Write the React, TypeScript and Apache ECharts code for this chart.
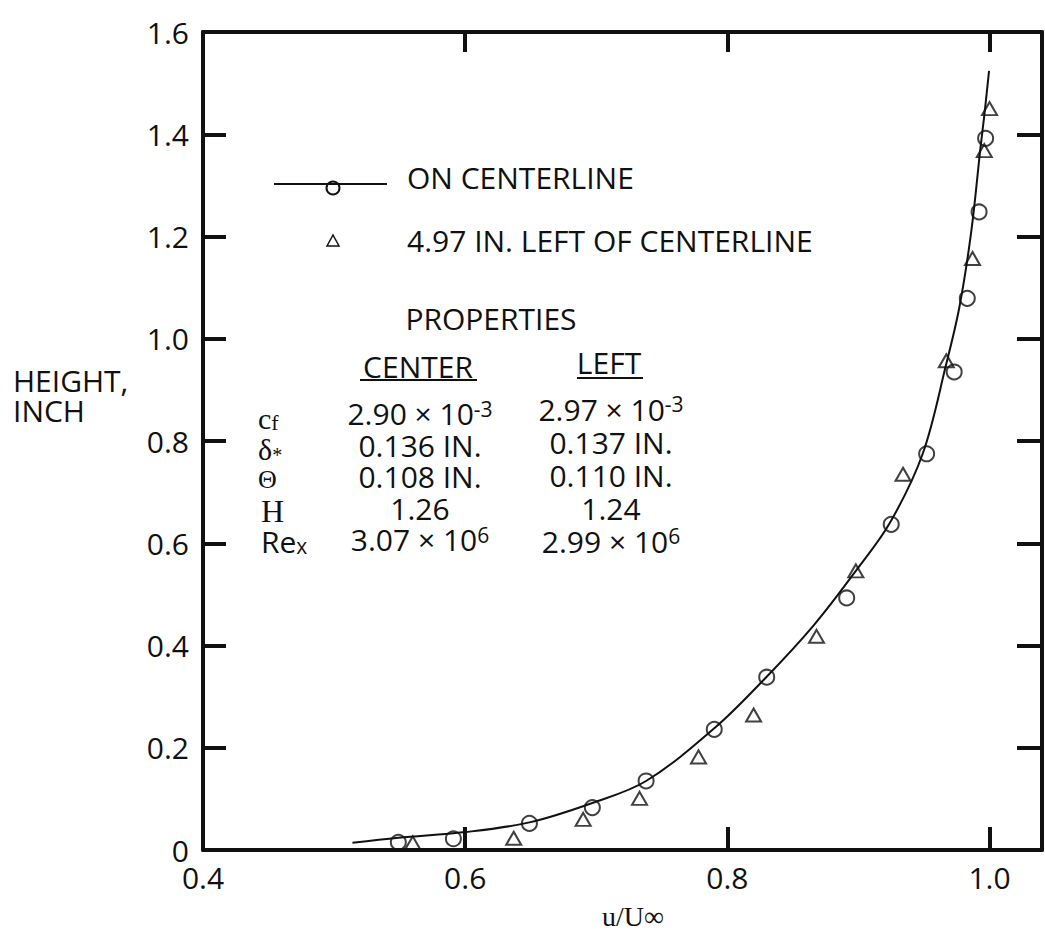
import React, { useEffect, useRef } from "react";
import * as echarts from "echarts";

// ON CENTERLINE (circles)
const centerX = [0.549, 0.591, 0.649, 0.697, 0.738, 0.79, 0.83, 0.891, 0.925, 0.952, 0.973, 0.983, 0.992, 0.997];
const centerY = [0.015, 0.022, 0.052, 0.083, 0.135, 0.236, 0.338, 0.493, 0.637, 0.775, 0.935, 1.079, 1.248, 1.392];
// 4.97 IN. LEFT OF CENTERLINE (triangles)
const leftX = [0.56, 0.637, 0.69, 0.733, 0.778, 0.82, 0.868, 0.898, 0.934, 0.967, 0.987, 0.996, 1.0];
const leftY = [0.014, 0.023, 0.06, 0.101, 0.182, 0.264, 0.418, 0.546, 0.735, 0.957, 1.157, 1.368, 1.45];
// faired curve through the centerline data
const fitX = [0.514, 0.549, 0.6, 0.649, 0.697, 0.738, 0.79, 0.83, 0.866, 0.898, 0.924, 0.949, 0.967, 0.977, 0.986, 0.993, 0.996, 0.9996];
const fitY = [0.014, 0.024, 0.035, 0.054, 0.092, 0.135, 0.238, 0.339, 0.44, 0.546, 0.64, 0.775, 0.951, 1.062, 1.209, 1.372, 1.437, 1.524];

const xLabels = ["0.4", "0.6", "0.8", "1.0"];
const yLabels = ["0", "0.2", "0.4", "0.6", "0.8", "1.0", "1.2", "1.4", "1.6"];

// properties table
const centerProps = ["2.90 × 10|-3", "0.136 IN.", "0.108 IN.", "1.26", "3.07 × 10|6"];
const leftProps = ["2.97 × 10|-3", "0.137 IN.", "0.110 IN.", "1.24", "2.99 × 10|6"];

const SANS = "'Open Sans', 'Noto Sans', sans-serif";
const SERIF = "'Liberation Serif', 'DejaVu Serif', serif";
const INK = "#111";

function txt(text: string, x: number, y: number, size: number, align: string = "left", family: string = SANS) {
  return {
    type: "text",
    x,
    y,
    style: {
      text,
      fill: INK,
      font: `${size}px ${family}`,
      textAlign: align,
      textVerticalAlign: "middle",
      verticalAlign: "middle",
    },
  };
}

function propColumn(rows: string[], x: number, top: number, lh: number) {
  const text = rows
    .map((r) => {
      const [m, s] = r.split("|");
      return s ? `{m|${m}}{s|${s}}` : `{m|${m}}`;
    })
    .join("\n");
  return {
    type: "text",
    x,
    y: top,
    style: {
      text,
      fill: INK,
      font: `30px ${SANS}`,
      align: "center",
      textAlign: "center",
      verticalAlign: "top",
      textVerticalAlign: "top",
      rich: {
        m: { fontSize: 30, fontFamily: SANS, color: INK, fill: INK, lineHeight: lh },
        s: { fontSize: 21, fontFamily: SANS, color: INK, fill: INK, lineHeight: 13, verticalAlign: "top" },
      },
    },
  };
}

export default function App() {
  const ref = useRef<HTMLDivElement>(null);

  useEffect(() => {
    if (!ref.current) return;
    const chart = echarts.init(ref.current, undefined, { renderer: "svg" });

    const fmtX = (v: number) => {
      const idx = xLabels.indexOf(v.toFixed(1));
      return Math.abs(v * 5 - Math.round(v * 5)) < 1e-6 && idx >= 0 ? xLabels[idx] : "";
    };
    const fmtY = (v: number) => {
      const s = v === 0 ? "0" : v.toFixed(1);
      return yLabels.indexOf(s) >= 0 ? s : "";
    };

    const axisLine = { show: true, onZero: false, lineStyle: { color: INK, width: 4 } };
    const tickStyle = { color: INK, width: 4 };

    const symLH = 30.75;
    const symbols = {
      type: "text",
      x: 258,
      y: 403,
      style: {
        text: "{c|c}{cs|f}\n{c|δ}{ds|*}\n{th|Θ}\n{h|H}\n{r|Re}{rs|x}",
        fill: INK,
        font: `30px ${SERIF}`,
        align: "left",
        textAlign: "left",
        verticalAlign: "top",
        textVerticalAlign: "top",
        rich: {
          c: { fontSize: 30, fontFamily: SERIF, color: INK, fill: INK, lineHeight: symLH },
          cs: { fontSize: 22, fontFamily: SERIF, color: INK, fill: INK, lineHeight: 22, verticalAlign: "bottom" },
          ds: { fontSize: 20, fontFamily: SERIF, color: INK, fill: INK, lineHeight: 15, verticalAlign: "bottom" },
          th: { fontSize: 26, fontFamily: SERIF, color: INK, fill: INK, lineHeight: symLH },
          h: { fontSize: 32, fontFamily: SERIF, color: INK, fill: INK, lineHeight: symLH, padding: [0, 0, 0, 3] },
          r: { fontSize: 30, fontFamily: SANS, color: INK, fill: INK, lineHeight: symLH, padding: [0, 0, 0, 3] },
          rs: { fontSize: 21, fontFamily: SANS, color: INK, fill: INK, lineHeight: 12, verticalAlign: "bottom" },
        },
      },
    };

    const option: any = {
      animation: false,
      backgroundColor: "#fff",
      grid: { left: 203, right: 3, top: 32, bottom: 82 },
      xAxis: [
        {
          type: "value",
          min: 0.4,
          max: 1.04,
          interval: 0.2,
          position: "bottom",
          axisLine,
          axisTick: { show: true, inside: true, length: 23, lineStyle: tickStyle },
          axisLabel: { margin: 12, fontSize: 30, fontFamily: SANS, color: INK, formatter: fmtX, showMaxLabel: false },
          splitLine: { show: false },
        },
        {
          type: "value",
          min: 0.4,
          max: 1.04,
          interval: 0.2,
          position: "top",
          axisLine,
          axisTick: { show: true, inside: true, length: 20, lineStyle: tickStyle },
          axisLabel: { show: false },
          splitLine: { show: false },
        },
      ],
      yAxis: [
        {
          type: "value",
          min: 0,
          max: 1.6,
          interval: 0.2,
          position: "left",
          axisLine,
          axisTick: { show: true, inside: true, length: 23, lineStyle: tickStyle },
          axisLabel: { margin: 14, fontSize: 30, fontFamily: SANS, color: INK, formatter: fmtY },
          splitLine: { show: false },
        },
        {
          type: "value",
          min: 0,
          max: 1.6,
          interval: 0.2,
          position: "right",
          axisLine,
          axisTick: { show: true, inside: true, length: 25, lineStyle: tickStyle },
          axisLabel: { show: false },
          splitLine: { show: false },
        },
      ],
      series: [
        {
          name: "fit",
          type: "line",
          data: fitX.map((x, i) => [x, fitY[i]]),
          showSymbol: false,
          smooth: 0.35,
          lineStyle: { color: INK, width: 2 },
          z: 2,
        },
        {
          name: "ON CENTERLINE",
          type: "scatter",
          symbol: "circle",
          symbolSize: 15,
          data: centerX.map((x, i) => [x, centerY[i]]),
          itemStyle: { color: "rgba(0,0,0,0)", borderColor: INK, borderWidth: 2 },
          z: 3,
        },
        {
          name: "4.97 IN. LEFT OF CENTERLINE",
          type: "scatter",
          symbol: "triangle",
          symbolSize: [15, 13],
          data: leftX.map((x, i) => [x, leftY[i]]),
          itemStyle: { color: "rgba(0,0,0,0)", borderColor: INK, borderWidth: 2 },
          z: 3,
        },
      ],
      graphic: [
        // legend
        { type: "line", shape: { x1: 274, y1: 184, x2: 387, y2: 184 }, style: { stroke: INK, lineWidth: 2 } },
        { type: "circle", shape: { cx: 333, cy: 188, r: 6.5 }, style: { fill: "none", stroke: INK, lineWidth: 2 } },
        txt("ON CENTERLINE", 407, 177, 30),
        { type: "polygon", shape: { points: [[327, 246], [339, 246], [333, 235]] }, style: { fill: "none", stroke: INK, lineWidth: 1.5 } },
        txt("4.97 IN. LEFT OF CENTERLINE", 407, 240, 30),
        // properties block
        txt("PROPERTIES", 491, 318, 30, "center"),
        txt("CENTER", 418, 366, 30, "center"),
        { type: "line", shape: { x1: 360, y1: 380, x2: 477, y2: 380 }, style: { stroke: INK, lineWidth: 2 } },
        txt("LEFT", 609, 362, 30, "center"),
        { type: "line", shape: { x1: 577, y1: 378, x2: 643, y2: 378 }, style: { stroke: INK, lineWidth: 2 } },
        symbols,
        propColumn(centerProps, 420, 398, 31.5),
        propColumn(leftProps, 611, 393, 33),
        // axis titles
        {
          type: "text",
          x: 13,
          y: 365,
          style: {
            text: "HEIGHT,\nINCH",
            fill: INK,
            font: `30px ${SANS}`,
            lineHeight: 30,
            textAlign: "left",
            verticalAlign: "top",
            textVerticalAlign: "top",
          },
        },
        txt("u/U∞", 633, 916, 28, "center", SERIF),
      ],
    };

    chart.setOption(option);
    return () => chart.dispose();
  }, []);

  return (
    <div
      ref={ref}
      style={{ position: "fixed", left: 0, top: 0, width: 1045, height: 932, background: "#fff" }}
    />
  );
}
